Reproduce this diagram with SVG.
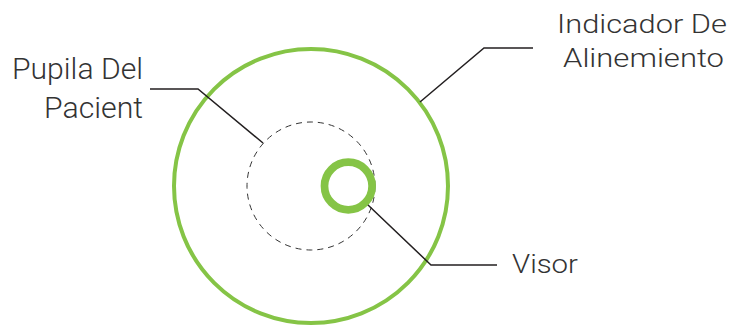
<svg xmlns="http://www.w3.org/2000/svg" width="730" height="328" viewBox="0 0 730 328">
<style>
.lbl{font-family:Roboto,"Liberation Sans",sans-serif;font-weight:300;fill:#333;}
.lead{fill:none;stroke:#231f20;stroke-width:1.5;stroke-linejoin:miter;}
.green{fill:none;stroke:#85c446;}
</style>
<rect width="730" height="328" fill="#fff"/>
<g id="alignment-indicator">
<circle class="green" cx="311" cy="186" r="137" stroke-width="4"/>
</g>
<g id="patient-pupil">
<circle cx="311" cy="186" r="64" fill="none" stroke="#333" stroke-width="1" stroke-dasharray="6 5"/>
</g>
<g id="visor">
<circle class="green" cx="348.3" cy="186" r="23.8" stroke-width="7.7"/>
</g>
<g id="connectors">
<polyline class="lead" points="150,89 198,89 263,143"/>
<polyline class="lead" points="533,48 484,48 420,102"/>
<polyline class="lead" points="368,205 431,265 497,265"/>
</g>
<g id="labels">
<text class="lbl" x="143" y="78.5" font-size="29.5" text-anchor="end" textLength="131" lengthAdjust="spacingAndGlyphs">Pupila Del</text>
<text class="lbl" x="143" y="118" font-size="29.5" text-anchor="end" textLength="99" lengthAdjust="spacingAndGlyphs">Pacient</text>
<text class="lbl" x="727" y="33" font-size="25.5" text-anchor="end" textLength="170" lengthAdjust="spacingAndGlyphs">Indicador De</text>
<text class="lbl" x="724" y="67" font-size="25.5" text-anchor="end" textLength="161" lengthAdjust="spacingAndGlyphs">Alinemiento</text>
<text class="lbl" x="512" y="273" font-size="26" textLength="66" lengthAdjust="spacingAndGlyphs">Visor</text>
</g>
</svg>
